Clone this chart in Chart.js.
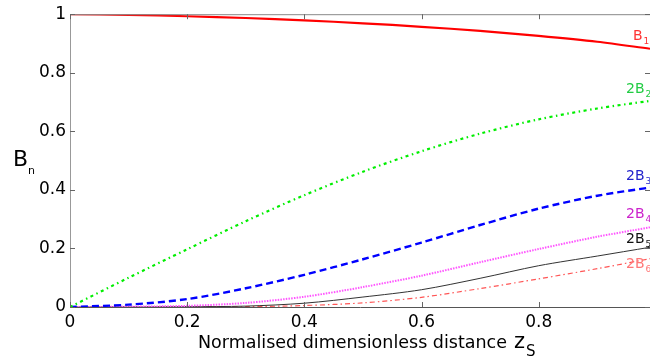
<!DOCTYPE html>
<html>
<head>
<meta charset="utf-8">
<script src="https://cdn.jsdelivr.net/npm/chart.js@4.4.0/dist/chart.umd.min.js"></script>
<style>
  html, body { margin: 0; padding: 0; background: #fff; }
  #wrap { width: 650px; height: 358px; position: relative; }
</style>
</head>
<body>
<div id="wrap"><canvas id="myChart"></canvas></div>
<script>
// normalised distance z_S
let zs = [0, 0.1, 0.2, 0.3, 0.4, 0.5, 0.6, 0.7, 0.8, 0.9, 0.99];

let b1  = [1, 0.998, 0.993, 0.987, 0.979, 0.969, 0.957, 0.943, 0.926, 0.906, 0.882];
let b2x = [0, 0.10, 0.197, 0.293, 0.382, 0.462, 0.532, 0.592, 0.641, 0.678, 0.704];
let b3x = [0, 0.008, 0.027, 0.064, 0.11, 0.163, 0.22, 0.28, 0.336, 0.38, 0.408];
let b4x = [0, 0.001, 0.004, 0.014, 0.035, 0.068, 0.107, 0.153, 0.198, 0.24, 0.272];
let b5x = [0, 0, 0.001, 0.003, 0.013, 0.034, 0.059, 0.098, 0.141, 0.174, 0.204];
let b6x = [0, 0, 0, 0.001, 0.005, 0.014, 0.033, 0.063, 0.096, 0.131, 0.165];

let xTicks = [0, 0.2, 0.4, 0.6, 0.8];
let yTicks = [0, 0.2, 0.4, 0.6, 0.8, 1];

// curve labels: main text, subscript, anchor (x, y baseline) in data units
let curveLabels = [
  { main: 'B',  sub: '1', x: 0.961, y: 0.912, color: '#ff3333' },
  { main: '2B', sub: '2', x: 0.949, y: 0.732, color: '#22cc44' },
  { main: '2B', sub: '3', x: 0.949, y: 0.434, color: '#2222cc' },
  { main: '2B', sub: '4', x: 0.949, y: 0.305, color: '#cc22cc' },
  { main: '2B', sub: '5', x: 0.949, y: 0.220, color: '#111111' },
  { main: '2B', sub: '6', x: 0.949, y: 0.132, color: '#ff7777' }
];

function pts(ys) {
  return zs.map((x, i) => ({ x: x, y: ys[i] }));
}

let fontName = '"DejaVu Sans", sans-serif';

let extras = {
  id: 'extras',
  afterDatasetsDraw(chart) {
    let ctx = chart.ctx;
    let a = chart.chartArea;
    let xs = chart.scales.x, ys = chart.scales.y;
    ctx.save();
    // top frame line
    ctx.strokeStyle = '#888';
    ctx.lineWidth = 1;
    ctx.beginPath();
    ctx.moveTo(a.left, a.top + 0.5);
    ctx.lineTo(a.right, a.top + 0.5);
    ctx.stroke();
    // inward ticks
    ctx.strokeStyle = '#666';
    ctx.beginPath();
    xTicks.forEach(t => {
      let px = Math.round(xs.getPixelForValue(t)) + 0.5;
      ctx.moveTo(px, a.bottom); ctx.lineTo(px, a.bottom - 5);
      ctx.moveTo(px, a.top); ctx.lineTo(px, a.top + 5);
    });
    yTicks.forEach(t => {
      let py = Math.round(ys.getPixelForValue(t)) + 0.5;
      ctx.moveTo(a.left, py); ctx.lineTo(a.left + 5, py);
      ctx.moveTo(a.right, py); ctx.lineTo(a.right - 5, py);
    });
    ctx.stroke();

    // curve labels
    ctx.textBaseline = 'alphabetic';
    ctx.textAlign = 'left';
    curveLabels.forEach(l => {
      let px = xs.getPixelForValue(l.x);
      let py = ys.getPixelForValue(l.y);
      ctx.fillStyle = l.color;
      ctx.font = '14px ' + fontName;
      ctx.fillText(l.main, px, py);
      let w = ctx.measureText(l.main).width;
      ctx.font = '9px ' + fontName;
      ctx.fillText(l.sub, px + w + 1, py + 4);
    });

    // y axis title B_n
    ctx.fillStyle = '#000';
    ctx.font = '22px ' + fontName;
    ctx.fillText('B', 13, 166);
    ctx.font = '11px ' + fontName;
    ctx.fillText('n', 28, 174);

    // x axis title
    ctx.font = '17.5px ' + fontName;
    ctx.fillText('Normalised dimensionless distance', 198, 348);
    ctx.font = '21px ' + fontName;
    ctx.fillText('z', 514, 348);
    ctx.font = '15px ' + fontName;
    ctx.fillText('S', 526, 356);
    ctx.restore();
  }
};

let chartEl = document.getElementById('myChart');
let myChart = new Chart(chartEl, {
  type: 'line',
  data: {
    datasets: [
      { label: 'B1', data: pts(b1), borderColor: '#ff0000', borderWidth: 2.2 },
      { label: '2B2', data: pts(b2x), borderColor: '#00ee00', borderWidth: 2.2, borderDash: [3, 3.5, 1.5, 3.5] },
      { label: '2B3', data: pts(b3x), borderColor: '#0000ff', borderWidth: 2.4, borderDash: [7, 4] },
      { label: '2B4', data: pts(b4x), borderColor: '#ff55ff', borderWidth: 2, borderDash: [1.5, 1.2] },
      { label: '2B5', data: pts(b5x), borderColor: '#333333', borderWidth: 1 },
      { label: '2B6', data: pts(b6x), borderColor: '#ff5555', borderWidth: 1.2, borderDash: [5, 3, 1.5, 3] }
    ]
  },
  options: {
    responsive: true,
    maintainAspectRatio: false,
    animation: false,
    devicePixelRatio: 1,
    layout: { padding: { top: 12, right: 0, left: 0, bottom: 0 } },
    elements: {
      point: { radius: 0 },
      line: { tension: 0.3, fill: false }
    },
    plugins: {
      legend: { display: false },
      tooltip: { enabled: false }
    },
    scales: {
      x: {
        type: 'linear',
        min: 0,
        max: 0.99,
        afterFit: s => { s.height = 51; },
        afterBuildTicks: s => { s.ticks = xTicks.map(v => ({ value: v })); },
        grid: { display: false, drawTicks: false },
        border: { color: '#555', width: 1 },
        ticks: {
          color: '#000',
          padding: 5,
          font: { family: fontName, size: 17 },
          maxRotation: 0,
          callback: v => String(v)
        }
      },
      y: {
        type: 'linear',
        min: 0,
        max: 1,
        afterFit: s => { s.width = 70; },
        afterBuildTicks: s => { s.ticks = yTicks.map(v => ({ value: v })); },
        grid: { display: false, drawTicks: false },
        border: { color: '#999', width: 1 },
        ticks: {
          color: '#000',
          padding: 4,
          font: { family: fontName, size: 17 },
          callback: v => String(v)
        }
      }
    }
  },
  plugins: [extras]
});
</script>
</body>
</html>
